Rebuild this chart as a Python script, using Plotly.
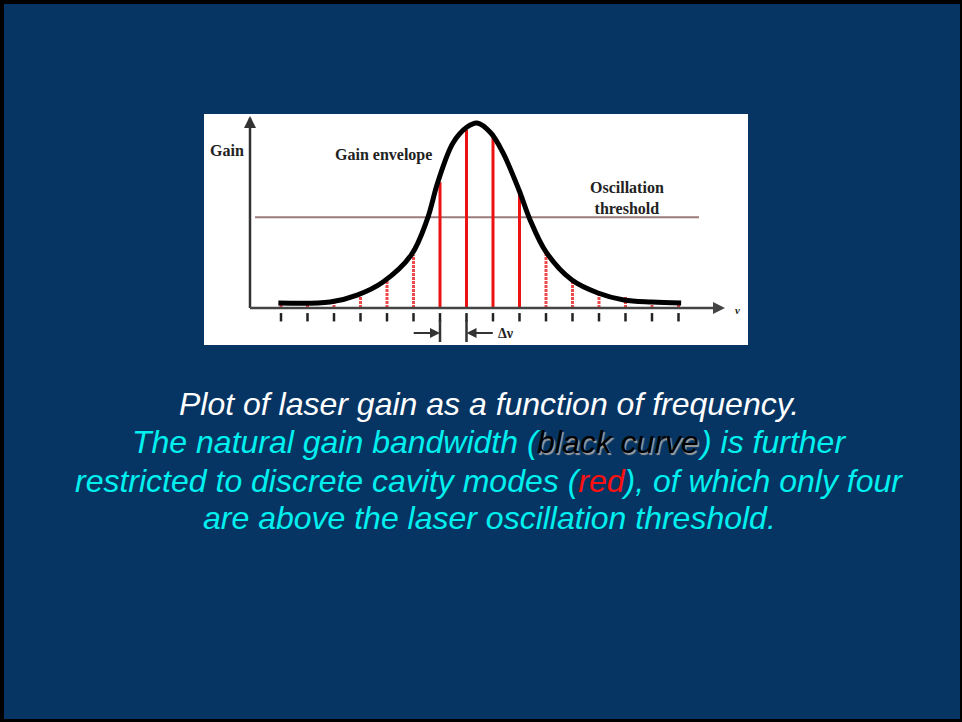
import plotly.graph_objects as go

# ---- data -------------------------------------------------------------
# cavity mode index (equally spaced by the mode spacing, delta nu)
mode_index = list(range(16))
# gain of each cavity mode (relative to the envelope peak = 1)
mode_gain = [0.027, 0.032, 0.032, 0.080, 0.151, 0.286, 0.680, 0.962,
             0.946, 0.638, 0.303, 0.151, 0.081, 0.059, 0.043, 0.032]

# gain envelope sampled along frequency (mode units)
env_freq = [-0.1, 1.85, 2.87, 3.85, 4.91, 5.51, 5.92, 6.49, 7.02, 7.40,
            7.92, 8.38, 8.98, 9.40, 10.0, 10.98, 11.96, 12.94, 14.0, 15.1]
env_gain = [0.027, 0.032, 0.070, 0.141, 0.286, 0.476, 0.681, 0.892, 0.978, 1.0,
            0.946, 0.838, 0.638, 0.476, 0.303, 0.151, 0.081, 0.043, 0.032, 0.027]

threshold = 0.49

caption_1 = "Plot of laser gain as a function of frequency."
caption_2 = ["The natural gain bandwidth (", "black curve", ") is further"]
caption_3 = "restricted to discrete cavity modes (<span style='color:#ff1010'>red</span>), of which only four"
caption_4 = "are above the laser oscillation threshold."

# ---- page geometry ----------------------------------------------------
W, H = 962, 722
NAVY = "#063463"
CYAN = "#00f0f0"
box = dict(x0=204, x1=748, y0=114, y1=345)      # white figure panel (px)
px0, du = 281, 26.5                               # pixel of mode 0, px per mode
py0, dg = 308, 185                                # pixel of zero gain, px per unit gain

xr = [(box["x0"] - px0) / du, (box["x1"] - px0) / du]
yr = [(py0 - box["y1"]) / dg, (py0 - box["y0"]) / dg]

fig = go.Figure()

# threshold line
fig.add_trace(go.Scatter(x=[(255 - px0) / du, (699 - px0) / du], y=[threshold, threshold],
                         mode="lines", line=dict(color="#9a7c7c", width=2),
                         hoverinfo="skip", showlegend=False))

# cavity modes
for m, g in zip(mode_index, mode_gain):
    above = g > threshold
    fig.add_trace(go.Scatter(
        x=[m, m], y=[0, g], mode="lines",
        line=dict(color="#ee1111" if above else "#f04848", width=3,
                  dash="solid" if above else "3px,1px"),
        hoverinfo="skip", showlegend=False))

# gain envelope
fig.add_trace(go.Scatter(x=env_freq, y=env_gain, mode="lines", line_shape="spline",
                         line=dict(color="black", width=5),
                         hoverinfo="skip", showlegend=False))

# tick marks under the frequency axis
fig.add_trace(go.Scatter(x=mode_index, y=[-0.05] * len(mode_index), mode="markers",
                         marker=dict(symbol="line-ns", size=6,
                                     line=dict(color="#222", width=2.5)),
                         hoverinfo="skip", showlegend=False))

ax_u = (250 - px0) / du
# axes
fig.add_shape(type="line", x0=ax_u, x1=ax_u, y0=0, y1=(py0 - 118) / dg,
              line=dict(color="#333", width=2.5))
fig.add_shape(type="line", x0=ax_u, x1=(722 - px0) / du, y0=0, y1=0,
              line=dict(color="#444", width=2.5))
# axis arrow heads
fig.add_annotation(x=ax_u, y=(py0 - 116) / dg, ax=ax_u, ay=(py0 - 135) / dg,
                   xref="x", yref="y", axref="x", ayref="y", text="",
                   showarrow=True, arrowhead=2, arrowsize=1.2, arrowwidth=2, arrowcolor="#333")
fig.add_annotation(x=(725 - px0) / du, y=0, ax=(705 - px0) / du, ay=0,
                   xref="x", yref="y", axref="x", ayref="y", text="",
                   showarrow=True, arrowhead=2, arrowsize=1.2, arrowwidth=2, arrowcolor="#444")

# delta-nu marker between modes 6 and 7
for m in (6, 7):
    fig.add_shape(type="line", x0=m, x1=m, y0=(py0 - 320) / dg, y1=(py0 - 342) / dg,
                  line=dict(color="#333", width=2.5))
ydn = (py0 - 333) / dg
fig.add_annotation(x=6, y=ydn, ax=6 - 1.05, ay=ydn, xref="x", yref="y", axref="x", ayref="y",
                   text="", showarrow=True, arrowhead=2, arrowsize=1, arrowwidth=2,
                   arrowcolor="#333")
fig.add_annotation(x=7, y=ydn, ax=7 + 1.05, ay=ydn, xref="x", yref="y", axref="x", ayref="y",
                   text="", showarrow=True, arrowhead=2, arrowsize=1, arrowwidth=2,
                   arrowcolor="#333")

serif = dict(family="Liberation Serif", size=16, color="#222")
fig.add_annotation(x=8.1, y=ydn, xref="x", yref="y", text="<b>Δν</b>", showarrow=False,
                   xanchor="left", yanchor="middle",
                   font=dict(family="Liberation Serif", size=14, color="#222"))
fig.add_annotation(x=(737 - px0) / du, y=(py0 - 310) / dg, xref="x", yref="y",
                   text="<b><i>ν</i></b>", showarrow=False, xanchor="center", yanchor="middle",
                   font=dict(family="Liberation Serif", size=11, color="#222"))

# panel labels
fig.add_annotation(x=208 / W, y=1 - 150 / H, xref="paper", yref="paper", text="<b>Gain</b>",
                   showarrow=False, xanchor="left", yanchor="middle", font=serif)
fig.add_annotation(x=333 / W, y=1 - 155 / H, xref="paper", yref="paper",
                   text="<b>Gain envelope</b>", showarrow=False, xanchor="left",
                   yanchor="middle", font=serif)
fig.add_annotation(x=627 / W, y=1 - 198 / H, xref="paper", yref="paper",
                   text="<b>Oscillation<br>threshold</b>", showarrow=False,
                   xanchor="center", yanchor="middle",
                   font=dict(family="Liberation Serif", size=16, color="#222"))

# caption
cap_font = dict(family="Liberation Sans", size=32, style="italic")
cx = 489 / W


def caption_line(text, yc, color, x=cx, xanchor="center", **font_extra):
    fig.add_annotation(x=x, y=1 - yc / H, xref="paper", yref="paper", text=text,
                       showarrow=False, xanchor=xanchor, yanchor="middle",
                       borderpad=0, borderwidth=0,
                       font=dict(cap_font, color=color, **font_extra))


caption_line(caption_1, 404, "white")
# second line: three pieces so "black curve" can carry its grey drop shadow
caption_line(caption_2[0], 442, CYAN, x=541 / W, xanchor="right")
caption_line(caption_2[1], 442, "black", x=537 / W, xanchor="left",
             shadow="1.5px 1.5px 1px #a0a0a0")
caption_line(caption_2[2], 442, CYAN, x=697 / W, xanchor="left")
caption_line(caption_3, 481, CYAN)
caption_line(caption_4, 518, CYAN)

# slide frame: black edge around the navy page
fig.add_shape(type="rect", xref="paper", yref="paper", x0=0, x1=1, y0=0, y1=1,
              fillcolor="black", line_width=0, layer="below")
fig.add_shape(type="rect", xref="paper", yref="paper",
              x0=4 / W, x1=960 / W, y0=1 - 719 / H, y1=1 - 4 / H,
              fillcolor=NAVY, line_width=0, layer="below")
fig.add_shape(type="rect", xref="paper", yref="paper",
              x0=box["x0"] / W, x1=box["x1"] / W, y0=1 - box["y1"] / H, y1=1 - box["y0"] / H,
              fillcolor="white", line_width=0, layer="below")

fig.update_layout(
    width=W, height=H, margin=dict(l=0, r=0, t=0, b=0),
    paper_bgcolor=NAVY, plot_bgcolor="rgba(0,0,0,0)",
    xaxis=dict(domain=[box["x0"] / W, box["x1"] / W], range=xr, visible=False, fixedrange=True),
    yaxis=dict(domain=[1 - box["y1"] / H, 1 - box["y0"] / H], range=yr, visible=False,
               fixedrange=True),
    showlegend=False,
)

fig.write_html("out.html", config={"displayModeBar": False})
